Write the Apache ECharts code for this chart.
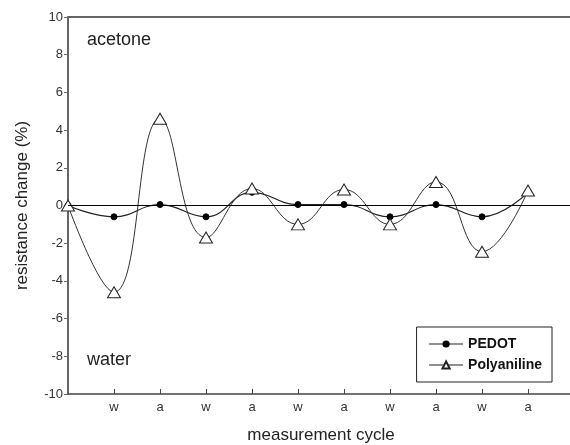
<!DOCTYPE html>
<html>
<head>
<meta charset="utf-8">
<script src="https://cdn.jsdelivr.net/npm/echarts@6/dist/echarts.min.js"></script>
<style>
  html, body { margin: 0; padding: 0; background: #fff; }
  #graph1 { width: 570px; height: 445px; }
</style>
</head>
<body>
<div id="graph1"></div>
<script>
// data
var cycles = ['', 'w', 'a', 'w', 'a', 'w', 'a', 'w', 'a', 'w', 'a'];
var pedot = [0, -0.6, 0.05, -0.6, 0.7, 0.05, 0.05, -0.6, 0.05, -0.6, 0.7];
var polyaniline = [0, -4.6, 4.6, -1.7, 0.9, -1.0, 0.85, -1.0, 1.25, -2.45, 0.8];
var yTicks = [-10, -8, -6, -4, -2, 0, 2, 4, 6, 8, 10];

var main = document.getElementById("graph1");
var myChart = echarts.init(main);

function pairs(arr) {
  return arr.map(function (v, i) { return [i, v]; });
}

var font = "Liberation Sans, Arial, sans-serif";

var option = {
  animation: false,
  grid: { left: 68, top: 17, right: -4, bottom: 51, containLabel: false, outerBoundsMode: 'none' },
  legend: {
    data: ['PEDOT', 'Polyaniline'],
    orient: 'vertical',
    right: 18, top: 327,
    padding: [10, 10, 10, 12],
    itemGap: 7,
    itemWidth: 34, itemHeight: 9,
    borderColor: '#222', borderWidth: 1,
    backgroundColor: '#fff',
    lineStyle: { width: 1, color: '#222' },
    textStyle: { fontFamily: font, fontSize: 14, fontWeight: 'bold', color: '#111' }
  },
  xAxis: [{
    type: 'value', min: 0, max: 11, interval: 1,
    name: 'measurement cycle', nameLocation: 'middle', nameGap: 33,
    nameTextStyle: { fontFamily: font, fontSize: 17, color: '#222' },
    axisLine: { onZero: false, lineStyle: { color: '#444', width: 1.5 } },
    axisTick: { inside: true, length: 5, lineStyle: { color: '#444' },
      interval: function (i, v) { return v >= 1 && v <= 10; } },
    axisLabel: {
      fontFamily: font, fontSize: 13, color: '#333', margin: 7,
      showMinLabel: false, showMaxLabel: false,
      formatter: function (v) { return cycles[v] || ''; }
    },
    splitLine: { show: false }
  }, {
    type: 'value', min: 0, max: 11, position: 'top',
    axisLine: { onZero: false, lineStyle: { color: '#666', width: 2 } },
    axisTick: { show: false }, axisLabel: { show: false }, splitLine: { show: false }
  }],
  yAxis: {
    type: 'value', min: -10, max: 10, interval: 2,
    name: 'resistance change (%)', nameLocation: 'middle', nameGap: 37,
    nameTextStyle: { fontFamily: font, fontSize: 17, color: '#222' },
    axisLine: { show: true, lineStyle: { color: '#666', width: 2 } },
    axisTick: { show: true, length: 4, lineStyle: { color: '#666' } },
    axisLabel: {
      fontFamily: font, fontSize: 13, color: '#333', margin: 5,
      formatter: function (v) { return yTicks.indexOf(v) >= 0 ? String(v) : ''; }
    },
    splitLine: { show: false }
  },
  graphic: [
    { type: 'text', left: 87, top: 31, style: { text: 'acetone', fontFamily: font, fontSize: 18, fill: '#222' } },
    { type: 'text', left: 87, top: 351, style: { text: 'water', fontFamily: font, fontSize: 18, fill: '#222' } }
  ],
  series: [
    {
      name: 'PEDOT', type: 'line', smooth: 0.45,
      data: pairs(pedot),
      symbol: 'circle', symbolSize: 6,
      lineStyle: { color: '#222', width: 1.2 },
      itemStyle: { color: '#000', borderColor: '#000' },
      markLine: {
        silent: true, symbol: 'none', label: { show: false },
        lineStyle: { color: '#000', width: 1.2, type: 'solid' },
        data: [{ yAxis: 0 }]
      },
      z: 3
    },
    {
      name: 'Polyaniline', type: 'line', smooth: 0.45,
      data: pairs(polyaniline),
      symbol: 'triangle', symbolSize: [13, 11],
      lineStyle: { color: '#333', width: 1 },
      itemStyle: { color: '#fff', borderColor: '#222', borderWidth: 1 },
      z: 4
    }
  ]
};

myChart.setOption(option);
</script>
</body>
</html>
